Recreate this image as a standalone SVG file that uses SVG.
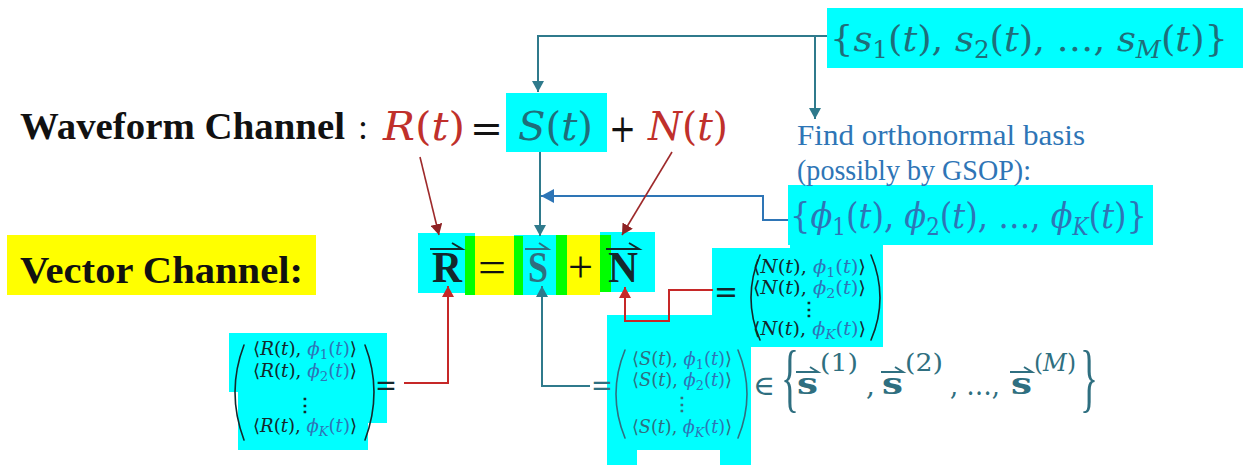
<svg xmlns="http://www.w3.org/2000/svg" width="1245" height="465" viewBox="0 0 1245 465">
<style>
.m{font-family:"DejaVu Serif","Liberation Serif",serif;}
.h{font-family:"Liberation Serif","DejaVu Serif",serif;}
.i{font-style:italic;}
.b{font-weight:bold;}
.cy{fill:#00FFFF;}
.teal{fill:#1F6E7A;}
.blue{fill:#2E75B6;}
.red{fill:#C0302B;}
.dk{fill:#14282C;}
.st{fill:#2F6F80;}
.par{fill:none;stroke-width:1.6;stroke-linecap:round;}
.ct{fill:none;stroke:#2F7A8C;stroke-width:2;}
.cb{fill:none;stroke:#2E75B6;stroke-width:2;}
.cr{fill:none;stroke:#C62828;stroke-width:2;}
.cdr{fill:none;stroke:#9E2A2B;stroke-width:1.6;}
.vec{fill:none;stroke-width:2;}
</style>
<defs>
<marker id="aT" markerWidth="12" markerHeight="12" refX="11" refY="6" orient="auto" markerUnits="userSpaceOnUse"><path d="M0,0 L11,6 L0,12 z" fill="#2F7A8C"/></marker>
<marker id="aB" markerWidth="14" markerHeight="14" refX="13" refY="7" orient="auto" markerUnits="userSpaceOnUse"><path d="M0,0 L13,7 L0,14 z" fill="#2E75B6"/></marker>
<marker id="aR" markerWidth="12" markerHeight="12" refX="11" refY="6" orient="auto" markerUnits="userSpaceOnUse"><path d="M0,0 L11,6 L0,12 z" fill="#C62828"/></marker>
<marker id="aD" markerWidth="12" markerHeight="12" refX="11" refY="6" orient="auto" markerUnits="userSpaceOnUse"><path d="M0,0 L11,6 L0,12 z" fill="#8E2224"/></marker>
</defs>
<rect width="1245" height="465" fill="#FFFFFF"/>

<g id="signal-set">
<rect class="cy" x="827" y="8" width="416" height="60"/>
<text class="m teal" x="830" y="51" font-size="36" textLength="398" lengthAdjust="spacingAndGlyphs">{<tspan class="i">s</tspan><tspan font-size="24" dy="7">1</tspan><tspan dy="-7">(</tspan><tspan class="i">t</tspan>), <tspan class="i">s</tspan><tspan font-size="24" dy="7">2</tspan><tspan dy="-7">(</tspan><tspan class="i">t</tspan>), …, <tspan class="i">s</tspan><tspan class="i" font-size="24" dy="7">M</tspan><tspan dy="-7">(</tspan><tspan class="i">t</tspan>)}</text>
</g>

<g id="waveform-channel">
<text class="h b" x="20" y="139" font-size="38" fill="#111" textLength="325" lengthAdjust="spacingAndGlyphs">Waveform Channel</text>
<text class="h" x="358" y="139" font-size="36" fill="#111">:</text>
<text class="m red" x="383" y="140" font-size="40" textLength="82" lengthAdjust="spacingAndGlyphs"><tspan class="i">R</tspan>(<tspan class="i">t</tspan>)</text>
<text class="m" x="470" y="142" font-size="40" fill="#111" textLength="33" lengthAdjust="spacingAndGlyphs">=</text>
</g>

<g id="waveform-S">
<rect class="cy" x="506" y="93" width="101" height="59"/>
<text class="m teal" x="518" y="140" font-size="40" textLength="75" lengthAdjust="spacingAndGlyphs"><tspan class="i">S</tspan>(<tspan class="i">t</tspan>)</text>
</g>

<g id="waveform-N">
<text class="m" x="609" y="142" font-size="40" fill="#111" textLength="27" lengthAdjust="spacingAndGlyphs">+</text>
<text class="m red" x="648" y="140" font-size="40" textLength="80" lengthAdjust="spacingAndGlyphs"><tspan class="i">N</tspan>(<tspan class="i">t</tspan>)</text>
</g>

<g id="basis">
<text class="h blue" x="797" y="145" font-size="30" textLength="288" lengthAdjust="spacingAndGlyphs">Find orthonormal basis</text>
<rect class="cy" x="788" y="185" width="365" height="60"/>
<rect class="cy" x="790" y="245" width="93" height="3"/>
<text class="h blue" x="797" y="180" font-size="30" textLength="234" lengthAdjust="spacingAndGlyphs">(possibly by GSOP):</text>
<text class="m blue" x="790" y="228" font-size="36" textLength="357" lengthAdjust="spacingAndGlyphs">{<tspan class="i">ϕ</tspan><tspan font-size="24" dy="7">1</tspan><tspan dy="-7">(</tspan><tspan class="i">t</tspan>), <tspan class="i">ϕ</tspan><tspan font-size="24" dy="7">2</tspan><tspan dy="-7">(</tspan><tspan class="i">t</tspan>), …, <tspan class="i">ϕ</tspan><tspan class="i" font-size="24" dy="7">K</tspan><tspan dy="-7">(</tspan><tspan class="i">t</tspan>)}</text>
</g>

<g id="vector-channel-label">
<rect x="7" y="235" width="309" height="60" fill="#FFFF00"/>
<text class="h b" x="20" y="283" font-size="38" fill="#111" textLength="283" lengthAdjust="spacingAndGlyphs">Vector Channel:</text>
</g>

<g id="vector-equation">
<rect class="cy" x="418" y="233" width="57" height="60"/>
<rect x="465" y="236" width="10" height="59" fill="#00FF00"/>
<rect x="475" y="236" width="40" height="59" fill="#FFFF00"/>
<rect class="cy" x="514" y="235" width="42" height="60"/>
<rect x="514" y="236" width="9" height="59" fill="#00FF00"/>
<rect x="556" y="235" width="11" height="60" fill="#00FF00"/>
<rect x="567" y="235" width="33" height="60" fill="#FFFF00"/>
<rect class="cy" x="600" y="232" width="55" height="60"/>
<rect x="600" y="235" width="11" height="57" fill="#00FF00"/>
<text class="h b dk" x="432" y="282" font-size="44" textLength="30" lengthAdjust="spacingAndGlyphs">R</text>
<path class="vec" stroke="#14282C" d="M430,249 H462 L452,243"/>
<text class="h" x="478" y="282" font-size="44" fill="#111" textLength="28" lengthAdjust="spacingAndGlyphs">=</text>
<text class="h b st" x="528" y="282" font-size="44" textLength="20" lengthAdjust="spacingAndGlyphs">S</text>
<path class="vec" stroke="#2F6F80" d="M525,249 H548 L539,243"/>
<text class="h" x="568" y="282" font-size="44" fill="#111" textLength="25" lengthAdjust="spacingAndGlyphs">+</text>
<text class="h b dk" x="608" y="282" font-size="44" textLength="30" lengthAdjust="spacingAndGlyphs">N</text>
<path class="vec" stroke="#14282C" d="M606,249 H639 L629,243"/>
</g>

<g id="R-vector">
<path class="cy" d="M229,333 H387 V423 H368 V450 H238 V392 H229 Z"/>
<path class="par" stroke="#14282C" d="M244,345 Q226,392 244,440"/>
<path class="par" stroke="#14282C" d="M365,345 Q383,392 365,440"/>
<text class="m dk" x="253" y="355" font-size="18" textLength="104" lengthAdjust="spacingAndGlyphs">⟨<tspan class="i">R</tspan>(<tspan class="i">t</tspan>), <tspan class="blue"><tspan class="i">ϕ</tspan><tspan font-size="13" dy="4">1</tspan><tspan dy="-4">(</tspan><tspan class="i">t</tspan>)</tspan>⟩</text>
<text class="m dk" x="253" y="377" font-size="18" textLength="104" lengthAdjust="spacingAndGlyphs">⟨<tspan class="i">R</tspan>(<tspan class="i">t</tspan>), <tspan class="blue"><tspan class="i">ϕ</tspan><tspan font-size="13" dy="4">2</tspan><tspan dy="-4">(</tspan><tspan class="i">t</tspan>)</tspan>⟩</text>
<text class="m b dk" x="305" y="411" font-size="18" text-anchor="middle">⋮</text>
<text class="m dk" x="253" y="432" font-size="18" textLength="104" lengthAdjust="spacingAndGlyphs">⟨<tspan class="i">R</tspan>(<tspan class="i">t</tspan>), <tspan class="blue"><tspan class="i">ϕ</tspan><tspan class="i" font-size="13" dy="4">K</tspan><tspan dy="-4">(</tspan><tspan class="i">t</tspan>)</tspan>⟩</text>
<text class="m dk" x="375" y="395" font-size="30" textLength="22" lengthAdjust="spacingAndGlyphs">=</text>
</g>

<g id="N-vector">
<rect class="cy" x="712" y="248" width="171" height="99"/>
<text class="m dk" x="714" y="303" font-size="32" textLength="24" lengthAdjust="spacingAndGlyphs">=</text>
<path class="par" stroke="#14282C" d="M760,255 Q742,298 760,340"/>
<path class="par" stroke="#14282C" d="M871,255 Q889,298 871,340"/>
<text class="m dk" x="753" y="273" font-size="18" textLength="113" lengthAdjust="spacingAndGlyphs">⟨<tspan class="i">N</tspan>(<tspan class="i">t</tspan>), <tspan class="blue"><tspan class="i">ϕ</tspan><tspan font-size="13" dy="4">1</tspan><tspan dy="-4">(</tspan><tspan class="i">t</tspan>)</tspan>⟩</text>
<text class="m dk" x="753" y="294" font-size="18" textLength="113" lengthAdjust="spacingAndGlyphs">⟨<tspan class="i">N</tspan>(<tspan class="i">t</tspan>), <tspan class="blue"><tspan class="i">ϕ</tspan><tspan font-size="13" dy="4">2</tspan><tspan dy="-4">(</tspan><tspan class="i">t</tspan>)</tspan>⟩</text>
<text class="m b dk" x="809" y="315" font-size="18" text-anchor="middle">⋮</text>
<text class="m dk" x="753" y="335" font-size="18" textLength="113" lengthAdjust="spacingAndGlyphs">⟨<tspan class="i">N</tspan>(<tspan class="i">t</tspan>), <tspan class="blue"><tspan class="i">ϕ</tspan><tspan class="i" font-size="13" dy="4">K</tspan><tspan dy="-4">(</tspan><tspan class="i">t</tspan>)</tspan>⟩</text>
</g>

<g id="S-vector">
<path class="cy" d="M607,315 H751 V465 H720 V450 H637 V465 H607 Z"/>
<text class="m st" x="591" y="395" font-size="30" textLength="22" lengthAdjust="spacingAndGlyphs">=</text>
<path class="par" stroke="#2F6F80" d="M625,350 Q607,394 625,438"/>
<path class="par" stroke="#2F6F80" d="M738,350 Q756,394 738,438"/>
<text class="m st" x="632" y="365" font-size="18" textLength="100" lengthAdjust="spacingAndGlyphs">⟨<tspan class="i">S</tspan>(<tspan class="i">t</tspan>), <tspan class="blue"><tspan class="i">ϕ</tspan><tspan font-size="13" dy="4">1</tspan><tspan dy="-4">(</tspan><tspan class="i">t</tspan>)</tspan>⟩</text>
<text class="m st" x="632" y="386" font-size="18" textLength="100" lengthAdjust="spacingAndGlyphs">⟨<tspan class="i">S</tspan>(<tspan class="i">t</tspan>), <tspan class="blue"><tspan class="i">ϕ</tspan><tspan font-size="13" dy="4">2</tspan><tspan dy="-4">(</tspan><tspan class="i">t</tspan>)</tspan>⟩</text>
<text class="m b st" x="682" y="410" font-size="18" text-anchor="middle">⋮</text>
<text class="m st" x="632" y="433" font-size="18" textLength="100" lengthAdjust="spacingAndGlyphs">⟨<tspan class="i">S</tspan>(<tspan class="i">t</tspan>), <tspan class="blue"><tspan class="i">ϕ</tspan><tspan class="i" font-size="13" dy="4">K</tspan><tspan dy="-4">(</tspan><tspan class="i">t</tspan>)</tspan>⟩</text>
<text class="m st" x="753" y="395" font-size="28" textLength="22" lengthAdjust="spacingAndGlyphs">∈</text>
<text class="h st" x="781" y="403" font-size="76" textLength="18" lengthAdjust="spacingAndGlyphs">{</text>
<text class="m b st" x="797" y="394" font-size="30" textLength="21" lengthAdjust="spacingAndGlyphs">s</text>
<path class="vec" stroke="#2F6F80" d="M796,372 H818 L810,367"/>
<text class="m st" x="820" y="371" font-size="24" textLength="38" lengthAdjust="spacingAndGlyphs">(1)</text>
<text class="m st" x="866" y="395" font-size="28">,</text>
<text class="m b st" x="882" y="394" font-size="30" textLength="21" lengthAdjust="spacingAndGlyphs">s</text>
<path class="vec" stroke="#2F6F80" d="M881,372 H903 L895,367"/>
<text class="m st" x="905" y="371" font-size="24" textLength="38" lengthAdjust="spacingAndGlyphs">(2)</text>
<text class="m st" x="950" y="395" font-size="28" textLength="50" lengthAdjust="spacingAndGlyphs">, …,</text>
<text class="m b st" x="1011" y="394" font-size="30" textLength="21" lengthAdjust="spacingAndGlyphs">s</text>
<path class="vec" stroke="#2F6F80" d="M1010,372 H1032 L1024,367"/>
<text class="m st" x="1034" y="371" font-size="24" textLength="42" lengthAdjust="spacingAndGlyphs">(<tspan class="i">M</tspan>)</text>
<text class="h st" x="1080" y="403" font-size="76" textLength="18" lengthAdjust="spacingAndGlyphs">}</text>
</g>

<g id="connectors">
<path class="ct" d="M827,36 H538 V92" marker-end="url(#aT)"/>
<path class="ct" d="M815,36 V119" marker-end="url(#aT)"/>
<path class="ct" d="M540,152 V236" marker-end="url(#aT)"/>
<path class="cb" d="M788,220 H763 V196 H541" marker-end="url(#aB)"/>
<path class="cdr" d="M420,157 L439,235" marker-end="url(#aD)"/>
<path class="cdr" d="M672,152 L622,235" marker-end="url(#aD)"/>
<path class="cr" d="M404,383 H448 V286" marker-end="url(#aR)"/>
<path class="ct" d="M590,386 H542 V286" marker-end="url(#aT)"/>
<path class="cr" d="M713,290 H669 V321 H625 V287" marker-end="url(#aR)"/>
</g>
</svg>
